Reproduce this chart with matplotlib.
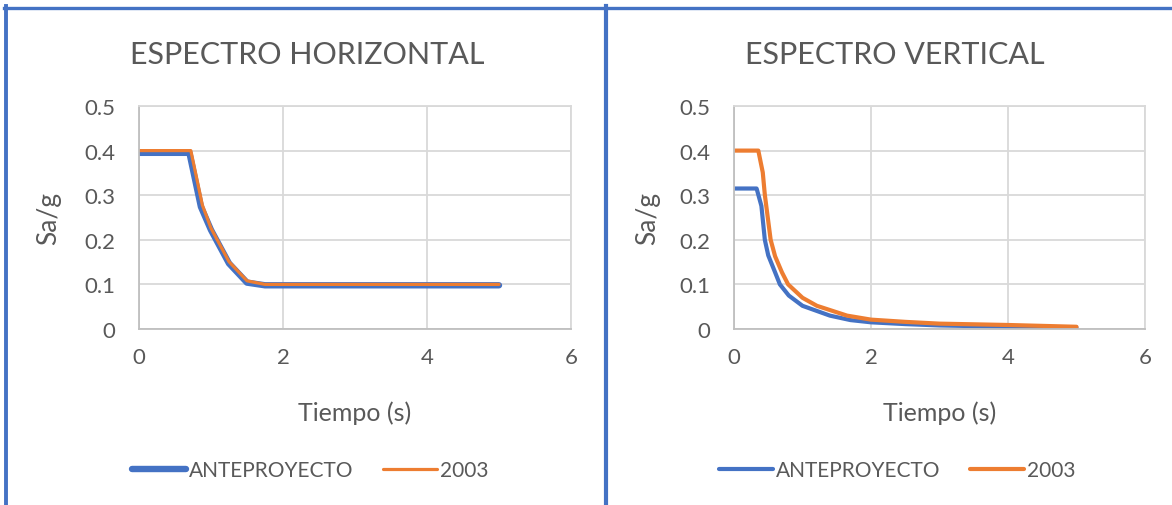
import matplotlib
matplotlib.use("Agg")
import matplotlib.pyplot as plt
from matplotlib.lines import Line2D

# === DATOS ===
# Espectro horizontal
t_h_ante = [0, 0.70, 0.86, 1.0, 1.25, 1.5, 1.75, 2, 3, 4, 5]
sa_h_ante = [0.395, 0.395, 0.274, 0.222, 0.147, 0.104, 0.098, 0.098, 0.098, 0.098, 0.098]
t_h_2003 = [0, 0.72, 0.88, 1.0, 1.25, 1.5, 1.75, 2, 3, 4, 5]
sa_h_2003 = [0.40, 0.40, 0.278, 0.226, 0.151, 0.108, 0.100, 0.100, 0.100, 0.100, 0.100]

# Espectro vertical
t_v_ante = [0, 0.33, 0.4, 0.45, 0.5, 0.6, 0.67, 0.8, 1.0, 1.4, 1.7, 2, 2.5, 3, 4, 5]
sa_v_ante = [0.315, 0.315, 0.276, 0.20, 0.165, 0.127, 0.10, 0.075, 0.052, 0.030,
             0.020, 0.015, 0.011, 0.008, 0.005, 0.003]
t_v_2003 = [0, 0.355, 0.42, 0.45, 0.535, 0.6, 0.7, 0.79, 1.0, 1.21, 1.65, 2, 2.5, 3, 4, 5]
sa_v_2003 = [0.40, 0.40, 0.351, 0.301, 0.20, 0.163, 0.127, 0.10, 0.07, 0.052,
             0.030, 0.021, 0.016, 0.012, 0.009, 0.005]

titulos = ["ESPECTRO HORIZONTAL", "ESPECTRO VERTICAL"]
series = ["ANTEPROYECTO", "2003"]
xticks = [0, 2, 4, 6]
yticks = [0, 0.1, 0.2, 0.3, 0.4, 0.5]
ytick_labels = ["0", "0.1", "0.2", "0.3", "0.4", "0.5"]

# === ESTILO ===
plt.rcParams["font.family"] = ["Lato", "DejaVu Sans"]
AZUL = "#4472C4"
NARANJA = "#ED7D31"
GRIS = "#595959"
W, H = 1172, 506

fig = plt.figure(figsize=(W / 100, H / 100), dpi=100)

def caja(x0, x1):
    return [x0 / W, 1 - 330 / H, (x1 - x0) / W, 223 / H]

ax1 = fig.add_axes(caja(139, 571))
ax2 = fig.add_axes(caja(734, 1145))

estilo = dict(solid_capstyle="round", solid_joinstyle="round")
ax1.plot(t_h_ante, sa_h_ante, color=AZUL, lw=4.6, label=series[0], **estilo)
ax1.plot(t_h_2003, sa_h_2003, color=NARANJA, lw=2.3, label=series[1], **estilo)
ax2.plot(t_v_ante, sa_v_ante, color=AZUL, lw=3.0, label=series[0], **estilo)
ax2.plot(t_v_2003, sa_v_2003, color=NARANJA, lw=3.0, label=series[1], **estilo)

for ax in (ax1, ax2):
    ax.set_xlim(0, 6)
    ax.set_ylim(0, 0.5)
    ax.set_xticks(xticks)
    ax.set_yticks(yticks)
    ax.set_yticklabels(ytick_labels)
    ax.tick_params(length=0, labelsize=16, labelcolor=GRIS)
    ax.tick_params(axis="y", pad=17)
    ax.tick_params(axis="x", pad=13)
    ax.grid(True, color="#D9D9D9", lw=1.3)
    ax.set_axisbelow(True)
    for lado in ("top", "right"):
        ax.spines[lado].set_color("#D9D9D9")
        ax.spines[lado].set_linewidth(1.3)
    for lado in ("left", "bottom"):
        ax.spines[lado].set_color("#BFBFBF")
        ax.spines[lado].set_linewidth(1.3)
    ax.set_xlabel("Tiempo (s)", fontsize=18, color=GRIS)
    ax.set_ylabel("Sa/g", fontsize=19, color=GRIS)
    ax.xaxis.set_label_coords(0.5, -0.318)
    ax.yaxis.set_label_coords(-0.18, 0.5)

fig.text(307 / W, 1 - 55 / H, titulos[0], fontsize=22, color=GRIS, ha="center", va="center")
fig.text(895 / W, 1 - 55 / H, titulos[1], fontsize=22, color=GRIS, ha="center", va="center")

# leyendas
for ax, cx in ((ax1, 310), (ax2, 897)):
    leg = ax.legend(loc="center", bbox_to_anchor=(cx / W, 1 - 471 / H),
                    bbox_transform=fig.transFigure, ncol=2, frameon=False,
                    fontsize=15, handlelength=2.6, handletextpad=0.15,
                    columnspacing=1.4, labelcolor=GRIS)
    for h in leg.get_lines():
        h.set_solid_capstyle("round")

# bordes azules de los gráficos
px = lambda v: v / W
py = lambda v: 1 - v / H
fig.add_artist(Line2D([px(4), px(W)], [py(8.5), py(8.5)], color=AZUL, lw=2.4))
fig.add_artist(Line2D([px(6), px(6)], [py(7), py(H)], color=AZUL, lw=2.8))
fig.add_artist(Line2D([px(606), px(606)], [py(7), py(H)], color=AZUL, lw=3.0))

fig.savefig("out.png", dpi=100)
